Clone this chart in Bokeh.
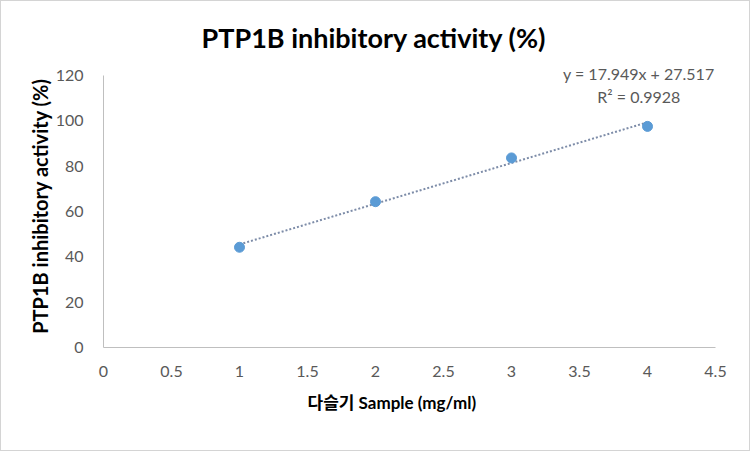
from bokeh.plotting import figure
from bokeh.models import Label, Range1d, FixedTicker, Title
from bokeh.layouts import column
from bokeh.embed import file_html
from bokeh.resources import INLINE

# Data
sample_conc = [1, 2, 3, 4]
inhibition = [44.2, 64.3, 83.6, 97.5]
trend_slope = 17.949
trend_intercept = 27.517
equation_text = "y = 17.949x + 27.517"
r2_text = "R² = 0.9928"
x_ticks = [0, 0.5, 1, 1.5, 2, 2.5, 3, 3.5, 4, 4.5]
y_ticks = [0, 20, 40, 60, 80, 100, 120]
title_text = "PTP1B inhibitory activity (%)"
x_title = "다슬기 Sample (mg/ml)"
y_title = "PTP1B inhibitory activity  (%)"

FONT = "Lato, 'Noto Sans CJK KR', sans-serif"
GRAY = "#595959"

p = figure(width=748, height=449, output_backend="svg", toolbar_location=None,
           x_range=Range1d(0, 4.5), y_range=Range1d(0, 127),
           min_border_left=102, min_border_right=34, min_border_top=58, min_border_bottom=103)
p.background_fill_color = "white"
p.border_fill_color = "white"
p.outline_line_color = None
p.grid.visible = False

for ax in (p.xaxis[0], p.yaxis[0]):
    ax.axis_line_color = "#bfbfbf"
    ax.axis_line_width = 1
    ax.major_tick_line_color = None
    ax.minor_tick_line_color = None
    ax.major_label_text_font = FONT
    ax.major_label_text_font_size = "16px"
    ax.major_label_text_color = GRAY

p.yaxis.bounds = (0, 120)
p.xaxis.ticker = FixedTicker(ticks=x_ticks)
p.yaxis.ticker = FixedTicker(ticks=y_ticks)
p.xaxis.major_label_overrides = {t: ("%g" % t) for t in x_ticks}
p.xaxis.major_label_standoff = 12
p.yaxis.major_label_standoff = 14

p.yaxis.axis_label = y_title
p.yaxis.axis_label_text_font = FONT
p.yaxis.axis_label_text_font_style = "bold"
p.yaxis.axis_label_text_font_size = "20px"
p.yaxis.axis_label_text_color = "black"
p.yaxis.axis_label_standoff = 1

# trendline (from displayed equation)
tx = [sample_conc[0], sample_conc[-1]]
ty = [trend_slope * v + trend_intercept for v in tx]
p.line(tx, ty, line_color="#7d8ca8", line_width=2, line_dash="2 2")

p.scatter(sample_conc, inhibition, size=10, fill_color="#5b9bd5", line_color="#5b9bd5")

p.add_layout(Label(x=3.936, y=120.8, text=equation_text, text_font=FONT,
                   text_font_size="16px", text_color=GRAY, text_align="center",
                   text_baseline="middle"))
p.add_layout(Label(x=3.936, y=110.7, text=r2_text, text_font=FONT,
                   text_font_size="16px", text_color=GRAY, text_align="center",
                   text_baseline="middle"))

# chart title
p.title.text = title_text
p.title.text_font = FONT
p.title.text_font_size = "27px"
p.title.text_font_style = "bold"
p.title.text_color = "black"
p.title.align = "left"
p.title.offset = 98
p.title.standoff = 11

# x axis title
p.add_layout(Title(text=x_title, text_font=FONT, text_font_size="17px",
                   text_font_style="bold", text_color="black", align="left",
                   offset=204, standoff=20), "below")

layout = column(p, styles={"border": "1px solid #d4d4d4"})

open("out.html", "w").write(file_html(layout, INLINE))
